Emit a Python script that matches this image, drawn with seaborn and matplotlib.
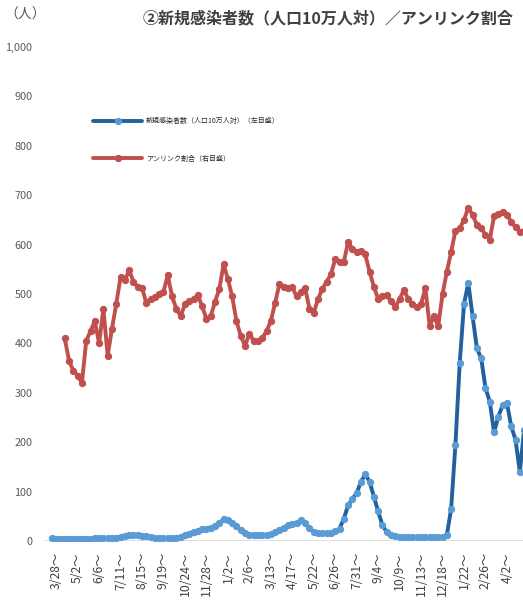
import numpy as np
import pandas as pd
import matplotlib.pyplot as plt
import seaborn as sns
from matplotlib.ticker import FuncFormatter

# weekly data, index 0 = week before 3/28
new_cases = [6, 5, 5, 5, 5, 5, 5, 5, 5, 5, 6, 6, 6, 6, 6, 7, 8,
             11, 12, 12, 12, 11, 10, 8, 7, 6, 6, 6, 6, 7,
             8, 12, 15, 19, 21, 24, 25, 27, 30, 36, 44, 42, 36, 30, 22, 17, 13, 12, 12, 12,
             12, 14, 18, 22, 27, 32, 34, 36, 42, 36,
             26, 18, 16, 16, 16, 17, 20, 25, 45, 72, 85, 97, 120, 135, 120, 90, 60, 32, 18, 12,
             10, 9, 8, 8, 8, 8, 8, 8, 8, 8, 8, 9,
             12, 65, 195, 360, 480, 522, 455, 390, 370, 310, 282, 220, 252, 275, 279, 232, 205, 140, 225]

# unlinked ratio (%), starts at index 3
unlinked = [41.0, 36.5, 34.5, 33.5, 32.0, 40.5, 42.5, 44.5, 40.0, 47.0, 37.5, 43.0, 48.0,
            53.5, 52.8, 54.8, 52.5, 51.5, 51.2, 48.2, 49.0, 49.4, 50.0, 50.5, 53.8, 49.5,
            47.0, 45.5, 48.0, 48.5, 49.0, 49.8, 47.5, 45.0, 45.5, 48.4, 51.0, 56.0, 53.0,
            49.5, 44.5, 41.5, 39.5, 42.0, 40.5, 40.5, 41.0, 42.5, 44.5, 48.2, 52.0, 51.5,
            51.2, 51.4, 49.5, 50.5, 51.2, 47.0, 46.2, 49.0, 51.0, 52.5, 54.0, 57.0, 56.5,
            56.5, 60.5, 59.2, 58.5, 58.8, 58.0, 54.5, 51.5, 49.0, 49.5, 49.8, 48.5, 47.4,
            49.0, 50.8, 49.0, 48.0, 47.4, 48.0, 51.2, 43.5, 45.5, 43.5, 50.0, 54.5, 58.5,
            62.8, 63.3, 65.0, 67.5, 66.0, 64.0, 63.3, 62.0, 61.0, 65.8, 66.2, 66.7, 66.0,
            64.6, 63.5, 62.6, 62.8]
unlinked_start = 3

tick_labels = ["3/28～", "5/2～", "6/6～", "7/11～", "8/15～", "9/19～", "10/24～",
               "11/28～", "1/2～", "2/6～", "3/13～", "4/17～", "5/22～", "6/26～",
               "7/31～", "9/4～", "10/9～", "11/13～", "12/18～", "1/22～", "2/26～", "4/2～"]

blue_df = pd.DataFrame({"week": np.arange(len(new_cases)), "value": new_cases})
red_df = pd.DataFrame({"week": np.arange(len(unlinked)) + unlinked_start, "value": unlinked})

sns.set_style("white")
plt.rcParams['font.family'] = ['Noto Sans CJK JP', 'DejaVu Sans']

fig = plt.figure(figsize=(5.23, 6.02), dpi=100)
ax = fig.add_axes([45 / 523, 61 / 602, 495 / 523, 494 / 602])
ax2 = ax.twinx()

sns.lineplot(data=blue_df, x="week", y="value", ax=ax, color="#22609e", lw=2.8,
             marker="o", markersize=4.5, markerfacecolor="#5b9bd5", markeredgecolor="#5b9bd5",
             label="新規感染者数（人口10万人対）（左目盛）", legend=False)
sns.lineplot(data=red_df, x="week", y="value", ax=ax2, color="#c0504d", lw=2.8,
             marker="o", markersize=4.5, markerfacecolor="#c0504d", markeredgecolor="#c0504d",
             label="アンリンク割合（右目盛）", legend=False)

ax.set_xlim(-1.6, 113.7)
ax.set_ylim(0, 1000)
ax2.set_ylim(0, 100)
ax.set_yticks(range(0, 1001, 100))
ax.yaxis.set_major_formatter(FuncFormatter(lambda v, p: f"{int(v):,}"))
ax.tick_params(axis="y", labelsize=7.8, labelcolor="#595959", length=0, pad=9)
ax.set_xticks(np.arange(len(tick_labels)) * 5 + 1)
ax.set_xticklabels(tick_labels, rotation=90, fontsize=8.8, color="#404040")
ax.tick_params(axis="x", length=0, pad=8)
ax.set_xlabel("")
ax.set_ylabel("")
ax2.set_ylabel("")
ax2.set_yticks([])
for a in (ax, ax2):
    for s in ("top", "right", "left", "bottom"):
        a.spines[s].set_visible(False)
ax.axhline(0, color="#d9d9d9", lw=1.2, zorder=0)

handles = ax.get_lines()[:1] + ax2.get_lines()[:1]
ax.legend(handles, [h.get_label() for h in handles], loc="upper left",
          bbox_to_anchor=(0.085, 0.87), frameon=False, fontsize=5,
          handlelength=7, labelspacing=4.2, handletextpad=0.6)

fig.text(25 / 523, 1 - 15 / 602, "（人）", fontsize=10, color="#595959", ha="center", va="center")
fig.text(328 / 523, 1 - 18 / 602, "②新規感染者数（人口10万人対）／アンリンク割合",
         fontsize=11.5, fontweight="bold", color="#404040", ha="center", va="center")

fig.savefig("out.png", dpi=100)
